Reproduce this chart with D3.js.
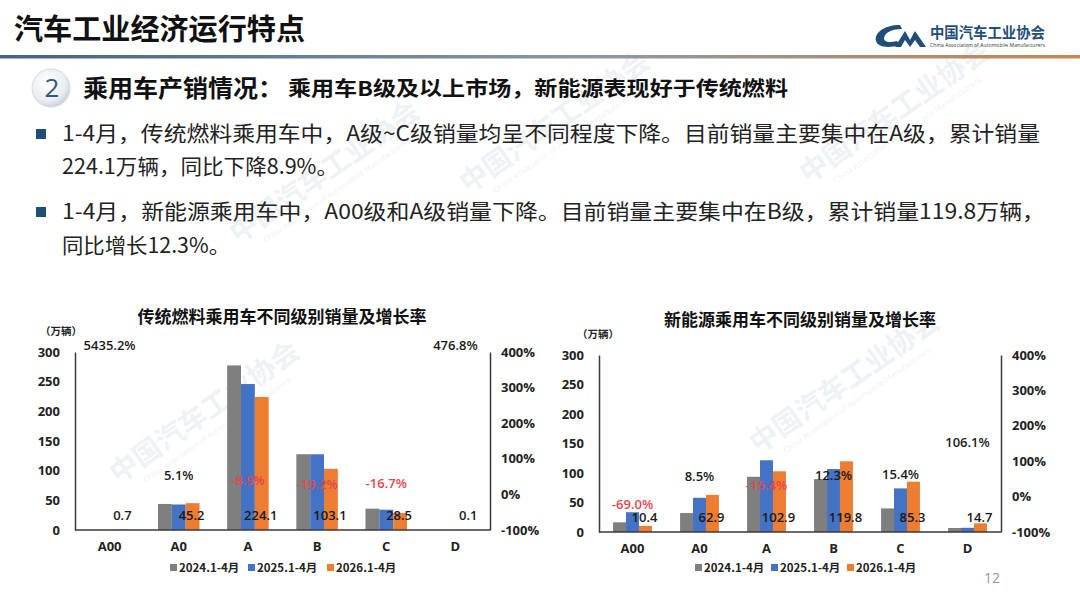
<!DOCTYPE html>
<html>
<head>
<meta charset="utf-8">
<script src="https://cdn.jsdelivr.net/npm/d3@7"></script>
<style>
  body { margin: 0; background: #fff; }
  svg { display: block; font-family: "Noto Sans CJK SC", "Open Sans", sans-serif; }
</style>
</head>
<body>
<script>
// categories and series
var grades = ["A00", "A0", "A", "B", "C", "D"];
var seriesNames = ["2024.1-4月", "2025.1-4月", "2026.1-4月"];
var seriesColors = ["#7f7f7f", "#4472c4", "#ed7d31"];

// 传统燃料 (万辆)
var fuel2024 = [0.1, 43.9, 277.4, 127.7, 36.0, 0.0];
var fuel2025 = [0.01, 43.0, 246.0, 127.6, 34.2, 0.02];
var fuel2026 = [0.7, 45.2, 224.1, 103.1, 28.5, 0.1];
var fuelRate = [5435.2, 5.1, -8.9, -19.2, -16.7, 476.8];

// 新能源 (万辆)
var nev2024 = [16.4, 32.1, 93.6, 89.7, 40.0, 6.8];
var nev2025 = [33.5, 58.0, 121.6, 106.7, 73.9, 7.1];
var nev2026 = [10.4, 62.9, 102.9, 119.8, 85.3, 14.7];
var nevRate = [-69.0, 8.5, -15.4, 12.3, 15.4, 106.1];

var volTicks = [0, 50, 100, 150, 200, 250, 300];
var rateTicks = [-100, 0, 100, 200, 300, 400];

var bullets = [
  ["1-4月，传统燃料乘用车中，A级~C级销量均呈不同程度下降。目前销量主要集中在A级，累计销量", "224.1万辆，同比下降8.9%。"],
  ["1-4月，新能源乘用车中，A00级和A级销量下降。目前销量主要集中在B级，累计销量119.8万辆，", "同比增长12.3%。"]
];

var svg = d3.select("body").append("svg")
    .attr("width", 1080)
    .attr("height", 607);

var defs = svg.append("defs");
var grad = defs.append("linearGradient").attr("id", "rule");
grad.append("stop").attr("offset", "0%").attr("stop-color", "#3f6586");
grad.append("stop").attr("offset", "55%").attr("stop-color", "#8c98a4");
grad.append("stop").attr("offset", "100%").attr("stop-color", "#c98650");

var ball = defs.append("radialGradient").attr("id", "ball")
    .attr("cx", "40%").attr("cy", "35%").attr("r", "70%");
ball.append("stop").attr("offset", "0%").attr("stop-color", "#ffffff");
ball.append("stop").attr("offset", "70%").attr("stop-color", "#e9edf2");
ball.append("stop").attr("offset", "100%").attr("stop-color", "#c4ccd6");

// faint watermark
var marks = [[560, 130], [900, 120], [210, 420], [850, 390], [330, 180]];
marks.forEach(function(m) {
  var g = svg.append("g")
      .attr("transform", "translate(" + m[0] + "," + m[1] + ") rotate(-35)")
      .attr("fill", "#eff2f5");
  g.append("text").attr("text-anchor", "middle")
      .attr("font-size", 28).attr("font-weight", 700)
      .text("中国汽车工业协会");
  g.append("text").attr("text-anchor", "middle").attr("y", 15)
      .attr("font-size", 8).attr("font-family", "Open Sans")
      .text("China Association of Automobile Manufacturers");
});

// ****************** header ***************************
svg.append("text")
    .attr("x", 14).attr("y", 40)
    .attr("font-size", 29).attr("font-weight", 700).attr("fill", "#111")
    .attr("textLength", 291).attr("lengthAdjust", "spacingAndGlyphs")
    .text("汽车工业经济运行特点");

svg.append("rect")
    .attr("x", 0).attr("y", 55).attr("width", 1080).attr("height", 3.5)
    .attr("fill", "url(#rule)");

// logo
svg.append("path")
    .attr("d", "M900,25 C884,25 874,33 876,41 C878,48 890,48 900,45 L897,41 C889,43 884,42 884,38 C885,32 893,29 902,29 Z")
    .attr("fill", "#1f4e79");
svg.append("path")
    .attr("d", "M895,47 L905,31 L910,40 L915,31 L926,47 L920,47 L915,40 L910,47 L905,40 L901,47 Z")
    .attr("fill", "#1f4e79");
svg.append("text")
    .attr("x", 930).attr("y", 38)
    .attr("font-size", 15).attr("font-weight", 700).attr("fill", "#1f4e79")
    .attr("textLength", 115).attr("lengthAdjust", "spacingAndGlyphs")
    .text("中国汽车工业协会");
svg.append("text")
    .attr("x", 930).attr("y", 47)
    .attr("font-size", 5).attr("font-family", "Open Sans").attr("fill", "#333")
    .attr("textLength", 115)
    .text("China Association of Automobile Manufacturers");

// section heading
svg.append("circle")
    .attr("cx", 51).attr("cy", 88).attr("r", 19)
    .attr("fill", "url(#ball)").attr("stroke", "#d3d9e1");
svg.append("text")
    .attr("x", 52).attr("y", 97).attr("text-anchor", "middle")
    .attr("font-size", 26).attr("font-family", "Open Sans").attr("fill", "#2f5a80")
    .text("2");
svg.append("text")
    .attr("x", 83).attr("y", 97)
    .attr("font-size", 24).attr("font-weight", 700).attr("fill", "#111")
    .attr("textLength", 200).attr("lengthAdjust", "spacingAndGlyphs")
    .text("乘用车产销情况：");
svg.append("text")
    .attr("x", 288).attr("y", 96)
    .attr("font-size", 20).attr("font-weight", 700).attr("fill", "#111")
    .attr("textLength", 500).attr("lengthAdjust", "spacingAndGlyphs")
    .text("乘用车B级及以上市场，新能源表现好于传统燃料");

// bullet paragraphs
var lineY = [[141, 174], [219, 253]];
var lineW = [[978, 276], [983, 168]];
bullets.forEach(function(b, i) {
  svg.append("rect")
      .attr("x", 36).attr("y", lineY[i][0] - 12).attr("width", 10).attr("height", 10)
      .attr("fill", "#1f4e79");
  b.forEach(function(t, j) {
    svg.append("text")
        .attr("x", 62).attr("y", lineY[i][j])
        .attr("font-size", 21).attr("fill", "#222")
        .attr("textLength", lineW[i][j]).attr("lengthAdjust", "spacingAndGlyphs")
        .text(t);
  });
});

svg.append("text")
    .attr("x", 992).attr("y", 583).attr("text-anchor", "middle")
    .attr("font-size", 14).attr("font-family", "Open Sans").attr("fill", "#999")
    .text("12");

// ****************** charts ***************************
drawChart({
  title: "传统燃料乘用车不同级别销量及增长率", titleX: 282, titleY: 323,
  unitX: 40, unitY: 335,
  x0: 75, x1: 490, yTop: 352, yBot: 530, pad: 0.4,
  values: [fuel2024, fuel2025, fuel2026], rates: fuelRate,
  legendX: [170, 248, 327], legendY: 568
});

drawChart({
  title: "新能源乘用车不同级别销量及增长率", titleX: 800, titleY: 326,
  unitX: 577, unitY: 338,
  x0: 599, x1: 1001, yTop: 355, yBot: 532, pad: 0.42,
  values: [nev2024, nev2025, nev2026], rates: nevRate,
  legendX: [695, 771, 847], legendY: 568
});

function drawChart(c) {
  var g = svg.append("g");

  var x = d3.scaleBand().domain(grades).range([c.x0, c.x1])
      .paddingInner(c.pad).paddingOuter(c.pad / 2);
  var xs = d3.scaleBand().domain(seriesNames).range([0, x.bandwidth()]);
  var y = d3.scaleLinear().domain([0, 300]).range([c.yBot, c.yTop]);
  var yr = d3.scaleLinear().domain([-100, 400]).range([c.yBot, c.yTop]);

  g.append("text")
      .attr("x", c.titleX).attr("y", c.titleY).attr("text-anchor", "middle")
      .attr("font-size", 17).attr("font-weight", 700).attr("fill", "#111")
      .text(c.title);
  g.append("text")
      .attr("x", c.unitX).attr("y", c.unitY)
      .attr("font-size", 10.5).attr("font-weight", 700).attr("fill", "#222")
      .text("（万辆）");

  // bars
  c.values.forEach(function(vals, s) {
    g.selectAll(null)
        .data(vals)
        .enter().append("rect")
        .attr("x", function(d, i) { return x(grades[i]) + xs(seriesNames[s]); })
        .attr("y", function(d) { return y(d); })
        .attr("width", xs.bandwidth())
        .attr("height", function(d) { return c.yBot - y(d); })
        .attr("fill", seriesColors[s]);
  });

  // axes
  var left = g.append("g")
      .attr("transform", "translate(" + c.x0 + ",0)")
      .call(d3.axisLeft(y).tickValues(volTicks).tickSize(0).tickPadding(15));
  var right = g.append("g")
      .attr("transform", "translate(" + c.x1 + ",0)")
      .call(d3.axisRight(yr).tickValues(rateTicks).tickSize(0).tickPadding(11)
        .tickFormat(function(d) { return d + "%"; }));
  [left, right].forEach(function(a) {
    a.select(".domain").attr("stroke", "#3a3a3a").attr("stroke-width", 1.5);
    a.selectAll("text")
        .attr("font-family", "Open Sans").attr("font-size", 13)
        .attr("font-weight", 700).attr("fill", "#222");
  });
  g.append("line")
      .attr("x1", c.x0).attr("x2", c.x1)
      .attr("y1", c.yBot).attr("y2", c.yBot)
      .attr("stroke", "#3a3a3a").attr("stroke-width", 1.5);

  // category labels
  g.selectAll(null)
      .data(grades)
      .enter().append("text")
      .attr("x", function(d) { return x(d) + x.bandwidth() / 2; })
      .attr("y", c.yBot + 21)
      .attr("text-anchor", "middle")
      .attr("font-family", "Open Sans").attr("font-size", 13)
      .attr("font-weight", 700).attr("fill", "#222")
      .text(function(d) { return d; });

  // value labels on the latest series
  var latest = c.values[2];
  g.selectAll(null)
      .data(latest)
      .enter().append("text")
      .attr("x", function(d, i) {
        return x(grades[i]) + xs(seriesNames[2]) + xs.bandwidth() / 2 - 1;
      })
      .attr("y", c.yBot - 10)
      .attr("text-anchor", "middle")
      .attr("font-family", "Open Sans").attr("font-size", 13)
      .attr("font-weight", 600).attr("fill", "#1a1a1a")
      .text(function(d) { return d.toFixed(1); });

  // growth rate labels
  g.selectAll(null)
      .data(c.rates)
      .enter().append("text")
      .attr("x", function(d, i) { return x(grades[i]) + x.bandwidth() / 2; })
      .attr("y", function(d) {
        return Math.max(yr(d) - 17, c.yTop - 7) + 4.5;
      })
      .attr("text-anchor", "middle")
      .attr("font-family", "Open Sans").attr("font-size", 13)
      .attr("font-weight", 600)
      .attr("fill", function(d) { return d < 0 ? "#e2474d" : "#1a1a1a"; })
      .text(function(d) { return d.toFixed(1) + "%"; });

  // legend
  var lg = g.selectAll(null)
      .data(seriesNames)
      .enter().append("g")
      .attr("transform", function(d, i) {
        return "translate(" + c.legendX[i] + "," + c.legendY + ")";
      });
  lg.append("rect")
      .attr("x", 0).attr("y", -4).attr("width", 7).attr("height", 7)
      .attr("fill", function(d, i) { return seriesColors[i]; });
  lg.append("text")
      .attr("x", 9).attr("y", 4)
      .attr("font-size", 11.5).attr("font-weight", 700).attr("fill", "#222")
      .text(function(d) { return d; });
}
</script>
</body>
</html>
